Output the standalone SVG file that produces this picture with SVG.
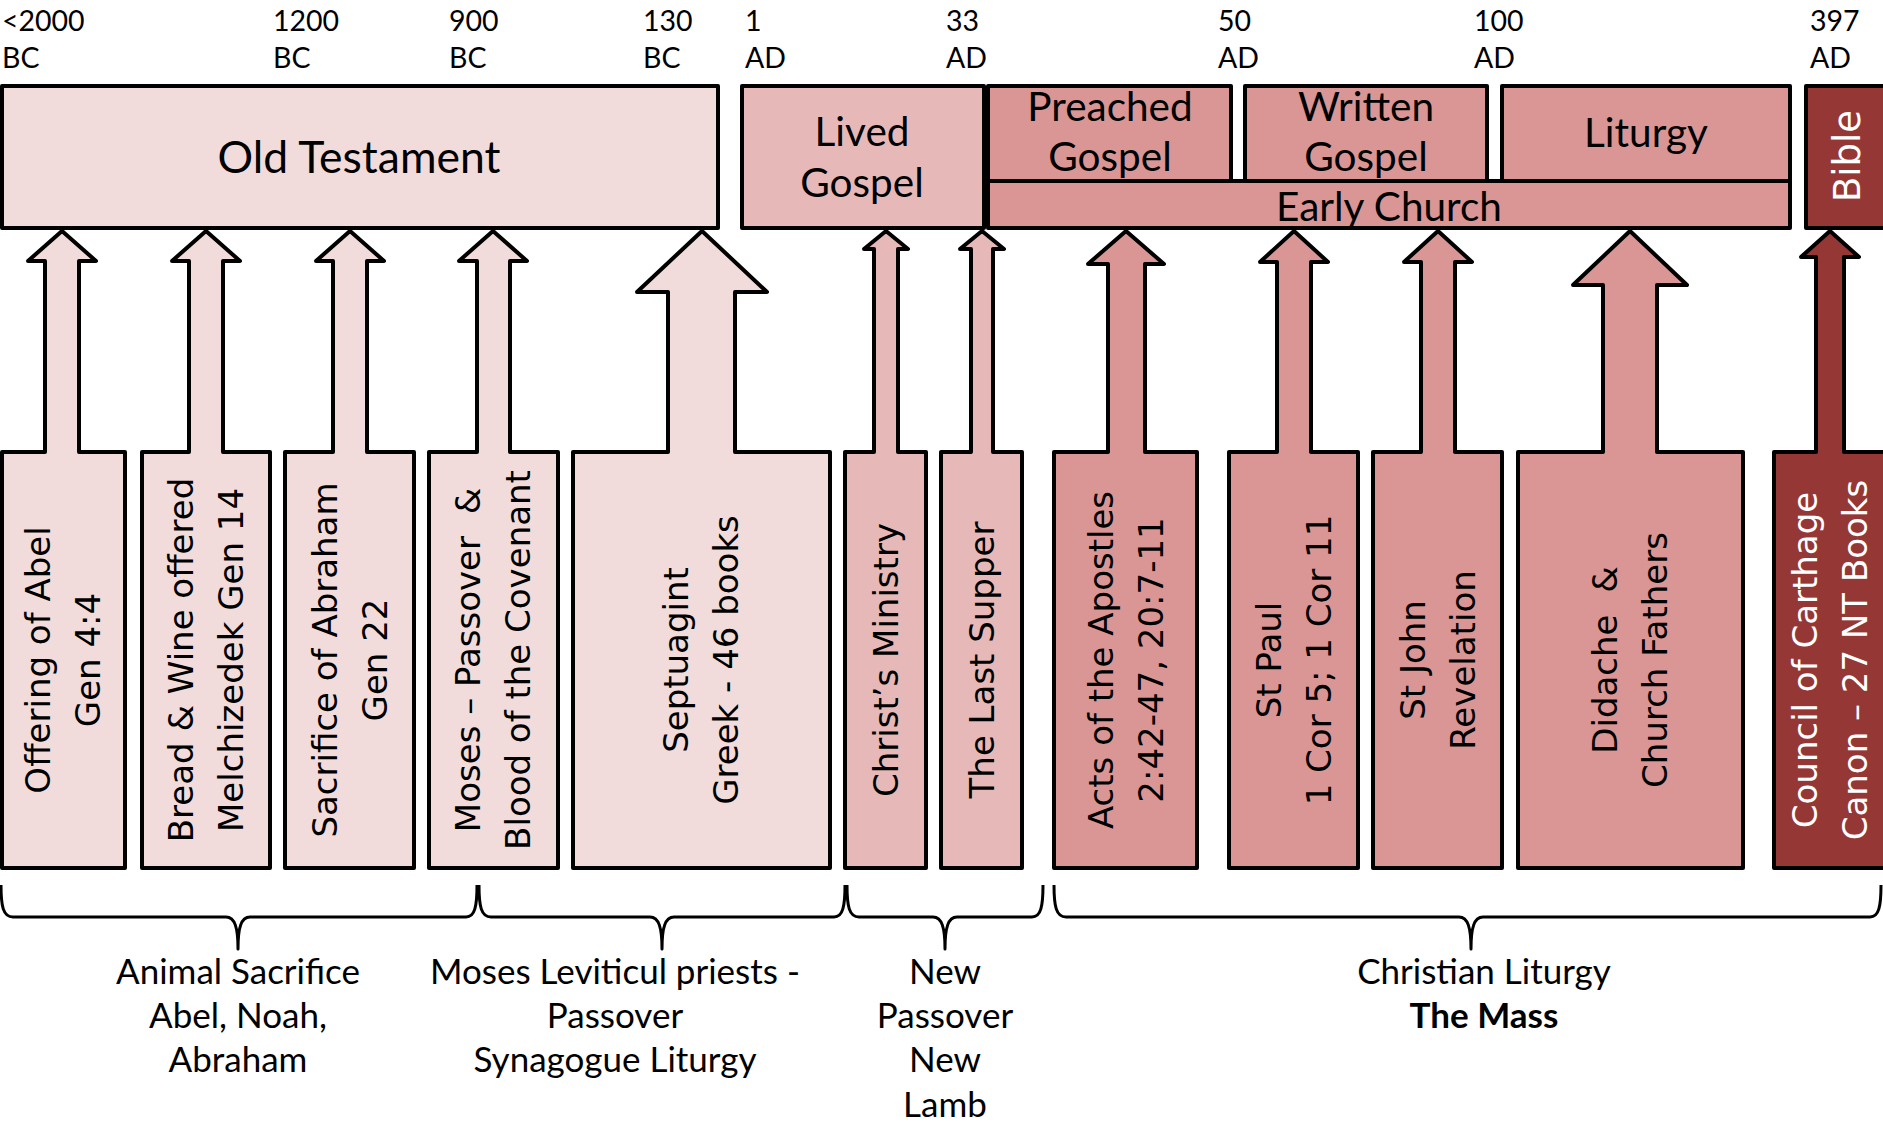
<svg xmlns="http://www.w3.org/2000/svg" width="1883" height="1124" viewBox="0 0 1883 1124">
<style>
  .c1{fill:#F2DCDB}
  .c2{fill:#E6B9B8}
  .c3{fill:#D99694}
  .c4{fill:#953735}
  .box{stroke:#000;stroke-width:4;stroke-linejoin:round}
  .cal{font-family:"Lato","Liberation Sans",sans-serif;fill:#000}
  .tl{font-size:28.5px}
  .top{font-size:40.5px;text-anchor:middle}
  .ot{font-size:44.5px;text-anchor:middle}
  .bot{font-size:35px;text-anchor:middle}
  .rot{font-family:"DejaVu Sans",sans-serif;font-size:34px;text-anchor:middle;fill:#000}
  .wh{fill:#fff}
  .brace{fill:none;stroke:#000;stroke-width:3;stroke-linejoin:round}
</style>

<g id="timeline" class="cal tl">
  <text x="2" y="31">&lt;2000</text><text x="2" y="68">BC</text>
  <text x="273" y="31">1200</text><text x="273" y="68">BC</text>
  <text x="449" y="31">900</text><text x="449" y="68">BC</text>
  <text x="643" y="31">130</text><text x="643" y="68">BC</text>
  <text x="745" y="31">1</text><text x="745" y="68">AD</text>
  <text x="946" y="31">33</text><text x="946" y="68">AD</text>
  <text x="1218" y="31">50</text><text x="1218" y="68">AD</text>
  <text x="1474" y="31">100</text><text x="1474" y="68">AD</text>
  <text x="1810" y="31">397</text><text x="1810" y="68">AD</text>
</g>

<g id="old-testament">
  <rect class="box c1" x="2" y="86" width="716" height="142"/>
  <text class="cal ot" x="359" y="173">Old Testament</text>
</g>
<g id="lived-gospel">
  <rect class="box c2" x="742" y="86" width="242" height="142"/>
  <text class="cal top" x="862" y="146">Lived</text>
  <text class="cal top" x="862" y="197">Gospel</text>
</g>
<g id="early-church">
  <rect class="box c3" x="988" y="181" width="802" height="47"/>
  <text class="cal top" x="1389" y="221">Early Church</text>
</g>
<g id="preached-gospel">
  <rect class="box c3" x="988" y="86" width="243" height="95"/>
  <text class="cal top" x="1110" y="121">Preached</text>
  <text class="cal top" x="1110" y="171">Gospel</text>
</g>
<g id="written-gospel">
  <rect class="box c3" x="1245" y="86" width="242" height="95"/>
  <text class="cal top" x="1366" y="121">Written</text>
  <text class="cal top" x="1366" y="171">Gospel</text>
</g>
<g id="liturgy">
  <rect class="box c3" x="1502" y="86" width="288" height="95"/>
  <text class="cal top" x="1646" y="147">Liturgy</text>
</g>
<g id="bible">
  <rect class="box c4" x="1806" y="86" width="90" height="142"/>
  <text class="rot wh" transform="translate(1847,156) rotate(-90)" y="13" style="font-size:37px">Bible</text>
</g>

<g id="abel">
  <path class="box c1" d="M2,868 L2,452 L45,452 L45,261 L28,261 L62,231 L96,261 L79,261 L79,452 L125,452 L125,868 Z"/>
  <text class="rot" transform="translate(38,660) rotate(-90)" y="12">Offering of Abel</text>
  <text class="rot" transform="translate(88,660) rotate(-90)" y="12">Gen 4:4</text>
</g>
<g id="bread-wine">
  <path class="box c1" d="M142,868 L142,452 L189,452 L189,261 L172,261 L206,231 L240,261 L223,261 L223,452 L270,452 L270,868 Z"/>
  <text class="rot" transform="translate(181,660) rotate(-90)" y="12">Bread &amp; Wine offered</text>
  <text class="rot" transform="translate(231,660) rotate(-90)" y="12">Melchizedek Gen 14</text>
</g>
<g id="abraham">
  <path class="box c1" d="M285,868 L285,452 L333,452 L333,261 L316,261 L350,231 L384,261 L367,261 L367,452 L414,452 L414,868 Z"/>
  <text class="rot" transform="translate(325,660) rotate(-90)" y="12">Sacrifice of Abraham</text>
  <text class="rot" transform="translate(375,660) rotate(-90)" y="12">Gen 22</text>
</g>
<g id="moses">
  <path class="box c1" d="M429,868 L429,452 L477,452 L477,261 L459,261 L493,231 L527,261 L510,261 L510,452 L558,452 L558,868 Z"/>
  <text class="rot" transform="translate(468,660) rotate(-90)" y="12" xml:space="preserve">Moses – Passover  &amp;</text>
  <text class="rot" transform="translate(518,660) rotate(-90)" y="12">Blood of the Covenant</text>
</g>
<g id="septuagint">
  <path class="box c1" d="M573,868 L573,452 L668,452 L668,292 L637,292 L702,231 L767,292 L735,292 L735,452 L830,452 L830,868 Z"/>
  <text class="rot" transform="translate(676,660) rotate(-90)" y="12">Septuagint</text>
  <text class="rot" transform="translate(726,660) rotate(-90)" y="12">Greek - 46 books</text>
</g>
<g id="christs-ministry">
  <path class="box c2" d="M845,868 L845,452 L874,452 L874,249 L864,249 L886,231 L908,249 L898,249 L898,452 L926,452 L926,868 Z"/>
  <text class="rot" transform="translate(886,660) rotate(-90)" y="12">Christ’s Ministry</text>
</g>
<g id="last-supper">
  <path class="box c2" d="M941,868 L941,452 L971,452 L971,249 L960,249 L982,231 L1004,249 L993,249 L993,452 L1022,452 L1022,868 Z"/>
  <text class="rot" transform="translate(982,660) rotate(-90)" y="12">The Last Supper</text>
</g>
<g id="acts">
  <path class="box c3" d="M1054,868 L1054,452 L1108,452 L1108,264 L1088,264 L1126,231 L1164,264 L1145,264 L1145,452 L1197,452 L1197,868 Z"/>
  <text class="rot" transform="translate(1101,660) rotate(-90)" y="12">Acts of the Apostles</text>
  <text class="rot" transform="translate(1151,660) rotate(-90)" y="12">2:42-47, 20:7-11</text>
</g>
<g id="st-paul">
  <path class="box c3" d="M1229,868 L1229,452 L1277,452 L1277,262 L1260,262 L1294,231 L1328,262 L1311,262 L1311,452 L1358,452 L1358,868 Z"/>
  <text class="rot" transform="translate(1269,660) rotate(-90)" y="12">St Paul</text>
  <text class="rot" transform="translate(1319,660) rotate(-90)" y="12">1 Cor 5; 1 Cor 11</text>
</g>
<g id="st-john">
  <path class="box c3" d="M1373,868 L1373,452 L1421,452 L1421,262 L1404,262 L1438,231 L1472,262 L1455,262 L1455,452 L1502,452 L1502,868 Z"/>
  <text class="rot" transform="translate(1413,660) rotate(-90)" y="12">St John</text>
  <text class="rot" transform="translate(1463,660) rotate(-90)" y="12">Revelation</text>
</g>
<g id="didache">
  <path class="box c3" d="M1518,868 L1518,452 L1603,452 L1603,285 L1573,285 L1630,231 L1687,285 L1657,285 L1657,452 L1743,452 L1743,868 Z"/>
  <text class="rot" transform="translate(1605,660) rotate(-90)" y="12" xml:space="preserve">Didache  &amp;</text>
  <text class="rot" transform="translate(1655,660) rotate(-90)" y="12">Church Fathers</text>
</g>
<g id="carthage">
  <path class="box c4" d="M1774,868 L1774,452 L1816,452 L1816,257 L1801,257 L1830,231 L1859,257 L1844,257 L1844,452 L1890,452 L1890,868 Z"/>
  <text class="rot wh" transform="translate(1805,660) rotate(-90)" y="12">Council of Carthage</text>
  <text class="rot wh" transform="translate(1855,660) rotate(-90)" y="12">Canon – 27 NT Books</text>
</g>

<g id="connectors">
  <path class="brace" d="M1,885 C1,906 3,917 13,917 L226,917 C235,917 238,928 238,949 C238,928 241,917 250,917 L466,917 C475,917 477,906 477,885"/>
  <path class="brace" d="M479,885 C479,906 481,917 491,917 L650,917 C659,917 662,928 662,949 C662,928 665,917 674,917 L834,917 C843,917 845,906 845,885"/>
  <path class="brace" d="M847,885 C847,906 849,917 859,917 L933,917 C942,917 945,928 945,949 C945,928 948,917 957,917 L1032,917 C1041,917 1043,906 1043,885"/>
  <path class="brace" d="M1054,885 C1054,906 1056,917 1066,917 L1459,917 C1468,917 1471,928 1471,949 C1471,928 1474,917 1483,917 L1870,917 C1879,917 1881,906 1881,885"/>
</g>

<g id="labels" class="cal bot">
  <text x="238" y="984">Animal Sacrifice</text>
  <text x="238" y="1028">Abel, Noah,</text>
  <text x="238" y="1072">Abraham</text>
  <text x="615" y="984">Moses Leviticul priests -</text>
  <text x="615" y="1028">Passover</text>
  <text x="615" y="1072">Synagogue Liturgy</text>
  <text x="945" y="984">New</text>
  <text x="945" y="1028">Passover</text>
  <text x="945" y="1072">New</text>
  <text x="945" y="1117">Lamb</text>
  <text x="1484" y="984">Christian Liturgy</text>
  <text x="1484" y="1028" font-weight="bold">The Mass</text>
</g>
</svg>
